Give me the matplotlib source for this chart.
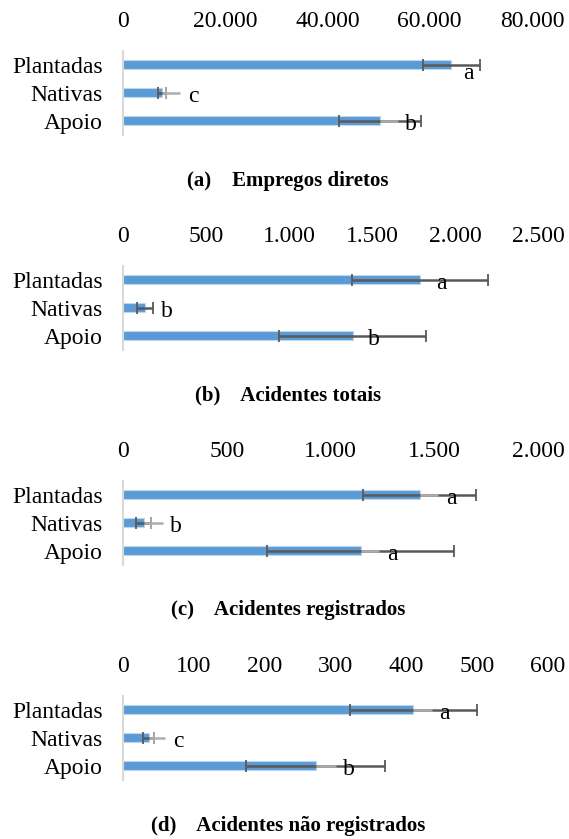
import matplotlib
matplotlib.use("Agg")
import matplotlib.pyplot as plt

# ---------------- data ----------------
categories = ["Plantadas", "Nativas", "Apoio"]

emp_mean = [64200, 7700, 50200]
emp_err = [5550, 800, 8000]
emp_letters = ["a", "c", "b"]

tot_mean = [1790, 132, 1383]
tot_err = [410, 50, 443]
tot_letters = ["a", "b", "b"]

reg_mean = [1429, 100, 1145]
reg_err = [271, 36, 451]
reg_letters = ["a", "b", "a"]

nreg_mean = [410, 36, 272]
nreg_err = [90, 8, 98]
nreg_letters = ["a", "c", "b"]

emp_ticks = [0, 20000, 40000, 60000, 80000]
tot_ticks = [0, 500, 1000, 1500, 2000, 2500]
reg_ticks = [0, 500, 1000, 1500, 2000]
nreg_ticks = [0, 100, 200, 300, 400, 500, 600]

titles = ["(a)    Empregos diretos", "(b)    Acidentes totais",
          "(c)    Acidentes registrados", "(d)    Acidentes não registrados"]

# label placement (x in data units of label centre)
emp_label_x = [67500, 13700, 56300]
tot_label_x = [1920, 263, 1514]
reg_label_x = [1582, 256, 1296]
nreg_label_x = [454, 77.6, 319]

# ---------------- style / layout ----------------
W, H = 569, 839
plt.rcParams['font.family'] = ['Liberation Serif', 'DejaVu Serif']
BAR = '#5B9BD5'
BAR_EDGE = '#BDD7EE'
DARK = '#595959'
LIGHT = '#ADADAD'
AXIS = '#D9D9D9'

panels = [
    dict(mean=emp_mean, err=emp_err, letters=emp_letters, ticks=emp_ticks,
         lx=emp_label_x, leader=[False, True, True], dy=[14, 9, 9],
         top=51, right=532),
    dict(mean=tot_mean, err=tot_err, letters=tot_letters, ticks=tot_ticks,
         lx=tot_label_x, leader=[False, False, False], dy=[9, 9, 9],
         top=266, right=538),
    dict(mean=reg_mean, err=reg_err, letters=reg_letters, ticks=reg_ticks,
         lx=reg_label_x, leader=[True, True, True], dy=[9, 9, 9],
         top=481, right=538),
    dict(mean=nreg_mean, err=nreg_err, letters=nreg_letters, ticks=nreg_ticks,
         lx=nreg_label_x, leader=[True, True, True], dy=[9, 9, 9],
         top=696, right=548),
]
title_y = [181, 395, 610, 826]

fig = plt.figure(figsize=(W / 100, H / 100), dpi=100)

left_px = 123
ax_h = 83.6
for p, ttl, ty in zip(panels, titles, title_y):
    ax = fig.add_axes([left_px / W, 1 - (p['top'] + ax_h) / H,
                       (p['right'] - left_px) / W, ax_h / H])
    y = list(range(len(categories)))
    ax.barh(y, p['mean'], height=0.32, color=BAR, edgecolor=BAR_EDGE,
            linewidth=0.8, zorder=2)
    ax.errorbar(p['mean'], y, xerr=p['err'], fmt='none', ecolor=DARK,
                elinewidth=1.8, capsize=4, capthick=1.3, zorder=3)
    ax.set_xlim(p['ticks'][0], p['ticks'][-1])
    ax.set_ylim(2.5, -0.5)
    fig.canvas.draw()
    inv = ax.transData.inverted()
    for i in range(len(categories)):
        m, e, lx = p['mean'][i], p['err'][i], p['lx'][i]
        if p['leader'][i]:
            px_lab = ax.transData.transform((lx, i))[0]
            end = inv.transform((px_lab - 13, 0))[0]
            ax.plot([m, end], [i, i], color=LIGHT, lw=1.8, zorder=4,
                    solid_capstyle='butt')
            if end > m + e:
                ax.plot([m + e], [i], marker='|', markersize=8,
                        markeredgewidth=1.3, color=LIGHT, zorder=5)
        ax.annotate(p['letters'][i], xy=(lx, i), xytext=(0, -p['dy'][i]),
                    textcoords='offset pixels', ha='center', va='baseline',
                    fontsize=17, color='black', zorder=6)
    ax.xaxis.tick_top()
    ax.set_xticks(p['ticks'])
    ax.set_xticklabels([f"{t:,.0f}".replace(",", ".") for t in p['ticks']],
                       fontsize=17)
    ax.set_yticks(y)
    ax.set_yticklabels(categories, fontsize=17)
    ax.tick_params(axis='x', length=0, pad=14)
    ax.tick_params(axis='y', length=0, pad=14.5)
    for s in ['top', 'right', 'bottom']:
        ax.spines[s].set_visible(False)
    ax.spines['left'].set_color(AXIS)
    ax.spines['left'].set_linewidth(1.5)
    ax.set_facecolor('none')
    fig.text(288 / W, 1 - ty / H, ttl, ha='center', va='center',
             fontsize=15, fontweight='bold')

fig.savefig("out.png", dpi=100)
